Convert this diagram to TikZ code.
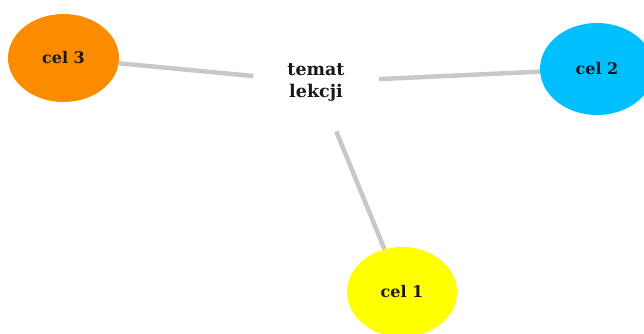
\documentclass[tikz,border=0pt]{standalone}
\usepackage{fontspec}
\setmainfont{DejaVu Serif}
\usetikzlibrary{shapes.geometric}
\definecolor{corange}{HTML}{FB8C00}
\definecolor{ccyan}{HTML}{00BFFF}
\definecolor{cyellow}{HTML}{FFFF00}
\definecolor{clink}{HTML}{C8C8C8}
\begin{document}
\begin{tikzpicture}[x=1pt,y=-1pt,
  goal/.style={ellipse, inner sep=0pt, text=black!90, font=\fontsize{16}{20}\selectfont\bfseries},
  topic/.style={ellipse, minimum width=126pt, minimum height=104pt, inner sep=0pt, align=center, text=black!90, font=\fontsize{17.5}{22}\selectfont\bfseries},
  link/.style={draw=clink, line width=4.5pt}]
\useasboundingbox (0,0) rectangle (644,333);
\begin{scope}
\clip (0,0) rectangle (644,333);
\node[topic] (t) at (316,82) {temat\\lekcji};
\node[goal, fill=corange, minimum width=111pt, minimum height=88pt] (c3) at (63.5,58) {cel 3};
\node[goal, fill=ccyan, minimum width=114pt, minimum height=92pt] (c2) at (597,69) {cel 2};
\node[goal, fill=cyellow, minimum width=110pt, minimum height=90pt] (c1) at (402,292) {cel 1};
\draw[link] (c3) -- (t);
\draw[link] (t) -- (c2);
\draw[link] (t) -- (c1);
\end{scope}
\end{tikzpicture}
\end{document}
